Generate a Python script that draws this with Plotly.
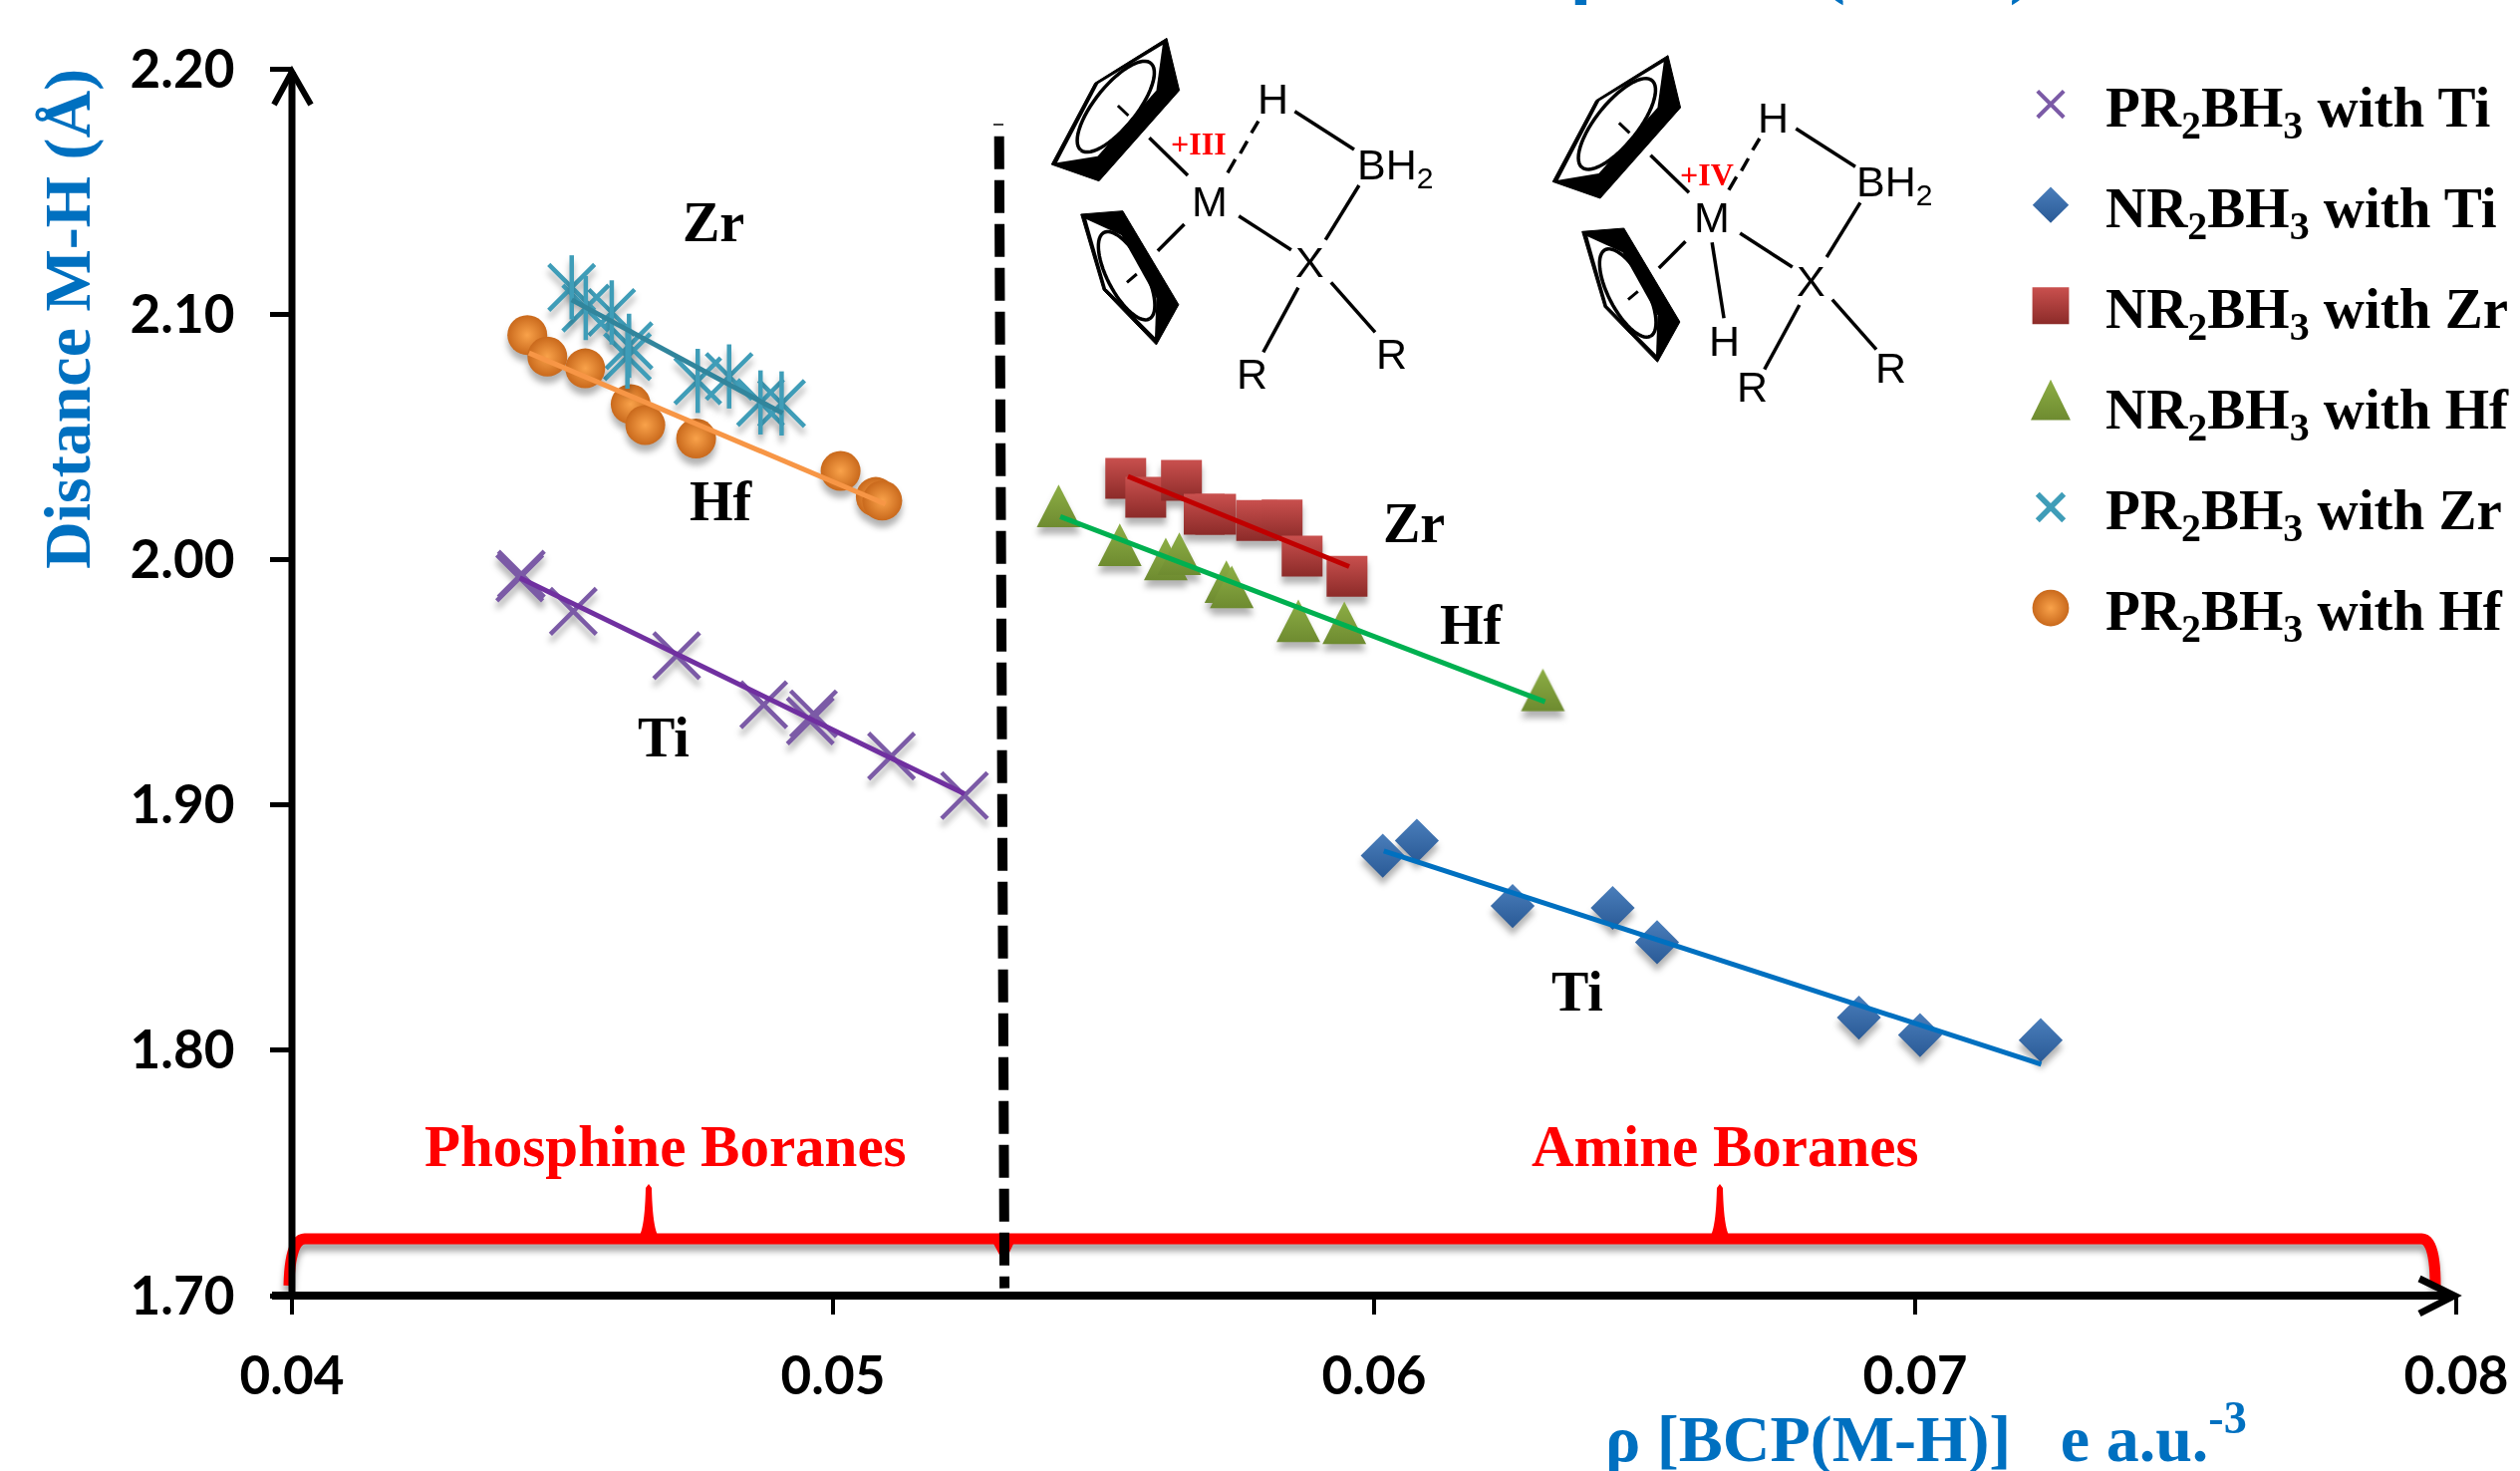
import numpy as np
import plotly.graph_objects as go

# ---- data ----
pr_ti_x = [0.04421, 0.04424, 0.04520, 0.04711, 0.04872, 0.04958, 0.04964, 0.05108, 0.05243]
pr_ti_y = [1.9925, 1.9940, 1.9789, 1.9608, 1.9408, 1.9342, 1.9371, 1.9199, 1.9038]
nr_ti_x = [0.06016, 0.06079, 0.06256, 0.06441, 0.06523, 0.06896, 0.07009, 0.07232]
nr_ti_y = [1.8793, 1.8854, 1.8588, 1.8580, 1.8440, 1.8133, 1.8062, 1.8041]
nr_zr_x = [0.05541, 0.05578, 0.05644, 0.05686, 0.05707, 0.05783, 0.05830, 0.05867, 0.05950]
nr_zr_y = [2.0331, 2.0253, 2.0322, 2.0184, 2.0184, 2.0159, 2.0161, 2.0014, 1.9932]
nr_hf_x = [0.05417, 0.05530, 0.05615, 0.05640, 0.05727, 0.05737, 0.05860, 0.05945, 0.06312]
nr_hf_y = [2.0189, 2.0031, 1.9973, 1.9995, 1.9881, 1.9859, 1.9721, 1.9713, 1.9440]
pr_zr_x = [0.04517, 0.04543, 0.04591, 0.04623, 0.04620, 0.04750, 0.04808, 0.04866, 0.04905]
pr_zr_y = [2.1109, 2.1025, 2.1007, 2.0871, 2.0827, 2.0728, 2.0746, 2.0640, 2.0636]
pr_hf_x = [0.04435, 0.04472, 0.04542, 0.04626, 0.04653, 0.04747, 0.05014, 0.05079, 0.05091]
pr_hf_y = [2.0915, 2.0827, 2.0779, 2.0633, 2.0548, 2.0493, 2.0361, 2.0255, 2.0240]

fit_pr_ti_x, fit_pr_ti_y = [0.04421, 0.05243], [1.9925, 1.9045]
fit_nr_ti_x, fit_nr_ti_y = [0.06018, 0.07233], [1.8812, 1.7943]
fit_nr_zr_x, fit_nr_zr_y = [0.05545, 0.05954], [2.0339, 1.9971]
fit_nr_hf_x, fit_nr_hf_y = [0.05420, 0.06316], [2.0175, 1.9420]
fit_pr_zr_x, fit_pr_zr_y = [0.04517, 0.04907], [2.1058, 2.0596]
fit_pr_hf_x, fit_pr_hf_y = [0.04438, 0.05097], [2.0842, 2.0226]

divider_x = [0.05307, 0.05317]
divider_y = [2.1725, 1.7030]

x_ticks = [0.04, 0.05, 0.06, 0.07, 0.08]
y_ticks = [1.70, 1.80, 1.90, 2.00, 2.10, 2.20]

SERIF = "Liberation Serif"
BLUE = "#0070C0"
RED = "#FF0000"

fig = go.Figure()


def points(name, xs, ys, symbol, size, color, grad=None, line=None):
    marker = dict(symbol=symbol, size=size, color=color)
    if grad:
        marker["gradient"] = dict(type=grad[0], color=grad[1])
    if line:
        marker["line"] = dict(color=line[0], width=line[1])
    fig.add_trace(go.Scatter(x=xs, y=ys, mode="markers", name=name, legendgroup=name,
                             marker=marker, cliponaxis=False))


def sub(a, b):
    return f"{a}<sub>2</sub>BH<sub>3</sub> with {b}"


points(sub("PR", "Ti"), pr_ti_x, pr_ti_y, "x-thin", 46, "#7B5AA6", line=("#7B5AA6", 4.5))
points(sub("NR", "Ti"), nr_ti_x, nr_ti_y, "diamond", 34, "#4A7EBB", grad=("vertical", "#2A5A96"))
points(sub("NR", "Zr"), nr_zr_x, nr_zr_y, "square", 41, "#C9504E", grad=("vertical", "#8C2B29"))
points(sub("NR", "Hf"), nr_hf_x, nr_hf_y, "triangle-up", 38, "#8DAE45", grad=("vertical", "#6E8B30"))
points(sub("PR", "Zr"), pr_zr_x, pr_zr_y, "x-thin", 46, "#3F9DB8", line=("#3F9DB8", 4.5))
points(sub("PR", "Hf"), pr_hf_x, pr_hf_y, "circle", 40, "#C9691C", grad=("radial", "#F9A24A"))
# vertical stroke that turns the Zr crosses into stars
fig.add_trace(go.Scatter(x=pr_zr_x, y=pr_zr_y, mode="markers", showlegend=False, hoverinfo="skip",
                         marker=dict(symbol="line-ns", size=46, color="#3F9DB8",
                                     line=dict(color="#3F9DB8", width=4.5))))

for xs, ys, col in [(fit_pr_ti_x, fit_pr_ti_y, "#7030A0"), (fit_nr_ti_x, fit_nr_ti_y, BLUE),
                    (fit_nr_zr_x, fit_nr_zr_y, "#C00000"), (fit_nr_hf_x, fit_nr_hf_y, "#00B050"),
                    (fit_pr_zr_x, fit_pr_zr_y, "#31859C"), (fit_pr_hf_x, fit_pr_hf_y, "#F79646")]:
    fig.add_trace(go.Scatter(x=xs, y=ys, mode="lines", showlegend=False, hoverinfo="skip",
                             line=dict(color=col, width=5)))

# ---- page geometry ----
L, R, T, B = 293, 2465, 69, 1300
W, H = 2529, 1476


def fx(px):
    return (px - L) / (R - L)


def fy(py):
    return (B - py) / (B - T)


def path(pts, close=False):
    s = "M" + " L".join(f"{fx(p[0]):.5f},{fy(p[1]):.5f}" for p in pts)
    return s + (" Z" if close else "")


shapes = []


def stroke(pts, w=3.5, color="black"):
    shapes.append(dict(type="path", xref="paper", yref="paper", path=path(pts),
                       line=dict(color=color, width=w), fillcolor="rgba(0,0,0,0)"))


def fill(pts, color="black", lw=1):
    shapes.append(dict(type="path", xref="paper", yref="paper", path=path(pts, True),
                       line=dict(color=color, width=lw), fillcolor=color))


# ---- red bracket ----
def curve(p0, c, p1, n=14):
    t = np.linspace(0, 1, n)[:, None]
    p0, c, p1 = map(np.array, (p0, c, p1))
    return ((1 - t) ** 2 * p0 + 2 * t * (1 - t) * c + t ** 2 * p1).tolist()


bracket = (curve((290, 1290), (291, 1243), (306, 1243)) +
           curve((2430, 1243), (2444, 1243), (2444, 1290)))
stroke(bracket, 11, RED)
for cx in (651, 1726):
    fill(curve((cx - 11, 1242), (cx - 4, 1236), (cx - 3, 1192)) + [(cx, 1188)] +
         curve((cx + 3, 1192), (cx + 4, 1236), (cx + 11, 1242)), RED, 0)
fill([(996, 1246), (1018, 1246), (1012, 1259), (1003, 1259)], RED, 0)

# ---- divider ----
shapes.append(dict(type="line", xref="x", yref="y", x0=divider_x[0], x1=divider_x[1],
                   y0=divider_y[0], y1=divider_y[1],
                   line=dict(color="black", width=10, dash="33px,11px")))
stroke([(997, 125), (1007, 125)], 1.5)

# ---- axis lines with open arrow heads ----
stroke([(293, 1300), (293, 72)], 7)
stroke([(275, 105), (293, 72), (312, 105)], 6)
stroke([(273, 1300), (2462, 1300)], 8)
stroke([(2428, 1283), (2463, 1300), (2428, 1318)], 7)


# ---- structure sketches (coordinates from the zoomed view) ----
def Z(zx, zy, off=(0, 0)):
    return (950 + (zx + off[0]) / 1.4255, (zy + off[1]) / 3)


def ellipse(e1, e2, b, off):
    a1, a2 = np.array(Z(*e1, off)), np.array(Z(*e2, off))
    c, v = (a1 + a2) / 2, (a2 - a1) / 2
    n = np.array([-v[1], v[0]]) / np.hypot(*v) * b
    t = np.linspace(0, 2 * np.pi, 60)
    return [tuple(c + v * np.cos(a) + n * np.sin(a)) for a in t]


annos = []


def label(px, py, text, size=43, color="black", family="Liberation Sans", bold=False, **kw):
    font = dict(size=size, color=color, family=family)
    if bold:
        font["weight"] = 700
    annos.append(dict(x=fx(px), y=fy(py), xref="paper", yref="paper", text=text, showarrow=False,
                      xanchor="center", yanchor="middle", font=font, **kw))


def structure(off, extra_h):
    z = lambda a, b: Z(a, b, off)
    # upper ring
    fill([z(315, 115), z(212, 250), z(150, 495), z(218, 545), z(333, 272)])
    fill([z(309, 135), z(300, 272), z(216, 470), z(158, 490), z(217, 252)], "white", 0)
    stroke(ellipse((292, 190), (192, 452), 21, off), 3.5)
    stroke([z(245, 318), z(260, 348)], 3)
    # lower ring
    fill([z(192, 645), z(252, 635), z(332, 917), z(300, 1038), z(224, 873)])
    fill([z(200, 660), z(250, 708), z(300, 897), z(298, 1015), z(228, 868)], "white", 0)
    stroke(ellipse((225, 700), (290, 960), 19, off), 3.5)
    stroke([z(258, 850), z(272, 825)], 3)
    # bonds
    for a, b in [((290, 415), (345, 528)), ((340, 675), (302, 755)),
                 ((498, 335), (583, 450)), ((590, 558), (542, 722)),
                 ((418, 650), (493, 752)), ((503, 866), (453, 1060)),
                 ((550, 850), (613, 1000))]:
        stroke([z(*a), z(*b)], 3.5)
    for a, b in [((402, 520), (413, 480)), ((420, 462), (430, 425)), ((436, 400), (446, 365))]:
        stroke([z(*a), z(*b)], 3.5)
    if extra_h:
        stroke([z(378, 678), z(395, 906)], 3.5)


OFF2 = (717, 52)
structure((0, 0), False)
structure(OFF2, True)
for zx, zy, t in [(377, 607, "M"), (467, 298, "H"), (642, 505, "BH<sub>2</sub>"),
                  (520, 790, "X"), (437, 1125, "R"), (637, 1065, "R")]:
    label(*Z(zx, zy), t)
for zx, zy, t in [(1095, 655, "M"), (1183, 355, "H"), (1355, 555, "BH<sub>2</sub>"),
                  (1237, 845, "X"), (1153, 1165, "R"), (1350, 1107, "R"), (1112, 1025, "H")]:
    label(*Z(zx, zy), t)
label(*Z(360, 433), "+III", 32, RED, SERIF, True)
label(*Z(1088, 525), "+IV", 32, RED, SERIF, True)

# ---- text labels ----
for px, py, t in [(716, 223, "Zr"), (724, 503, "Hf"), (666, 740, "Ti"),
                  (1419, 525, "Zr"), (1477, 627, "Hf"), (1583, 995, "Ti")]:
    label(px, py, t, 56, "black", SERIF, True)
label(668, 1150, "Phosphine Boranes", 59, RED, SERIF, True)
label(1731, 1150, "Amine Boranes", 59, RED, SERIF, True)
label(1933, 1439, "ρ [BCP(M-H)]\u00a0\u00a0\u00a0e a.u.<sup>-3</sup>", 66, BLUE, SERIF, True)
label(68, 320, "Distance M-H (Å)", 66, BLUE, SERIF, True, textangle=-90)
# cropped title at the very top of the picture
label(1823, -38, "ρ [BCP(M-H)]", 80, BLUE, SERIF, True)

fig.update_layout(
    width=W, height=H, autosize=False,
    margin=dict(l=L, r=W - R, t=T, b=H - B, pad=0, autoexpand=False),
    paper_bgcolor="white", plot_bgcolor="white",
    shapes=shapes, annotations=annos,
    legend=dict(x=fx(2003), y=fy(61), xanchor="left", yanchor="top",
                font=dict(family=SERIF, size=57, color="black", weight=700),
                itemwidth=100, tracegroupgap=24, bgcolor="rgba(0,0,0,0)", traceorder="grouped"),
    xaxis=dict(range=[0.04, 0.08], tickvals=x_ticks, tickformat=".2f", showgrid=False, zeroline=False,
               showline=False, ticks="outside", ticklen=18, tickwidth=4, tickcolor="black",
               ticklabelstandoff=16, automargin=False,
               tickfont=dict(family="Lato", size=53, color="black", weight=700)),
    yaxis=dict(range=[1.70, 2.20], tickvals=y_ticks, tickformat=".2f", showgrid=False, zeroline=False,
               showline=False, ticks="outside", ticklen=21, tickwidth=4.5, tickcolor="black",
               ticklabelstandoff=25, automargin=False,
               tickfont=dict(family="Lato", size=53, color="black", weight=700)),
)

post = """
document.body.style.margin='0';
var gd=document.getElementById('{plot_id}');
var sc=[[1.65,1.65],[1.75,1.75],[2.3,2.3],[2.16,3.4],[1.65,1.65],[2.3,2.3]];
gd.querySelectorAll('.legendpoints path').forEach(function(p,i){
  var s=sc[i]||[2,2];
  p.setAttribute('transform',(p.getAttribute('transform')||'')+' scale('+s[0]+','+s[1]+')');
  if(i===0){p.style.strokeWidth='2.4px';}
  if(i===4){p.style.strokeWidth='3.4px';}
});
gd.querySelectorAll('.scatterlayer .points').forEach(function(g,i){
  g.style.filter='drop-shadow(0 7px 3px rgba(0,0,0,0.3))';
  if(i===3){g.querySelectorAll('path').forEach(function(p){
    p.setAttribute('transform',(p.getAttribute('transform')||'')+' scale(1,1.5)');
  });}
});
gd.querySelectorAll('.shapelayer path').forEach(function(p){
  if(p.style.stroke.indexOf('255, 0, 0')>=0){p.style.filter='drop-shadow(0 7px 3px rgba(0,0,0,0.35))';}
});
"""
fig.write_html("out.html", post_script=post, config={"displayModeBar": False})
